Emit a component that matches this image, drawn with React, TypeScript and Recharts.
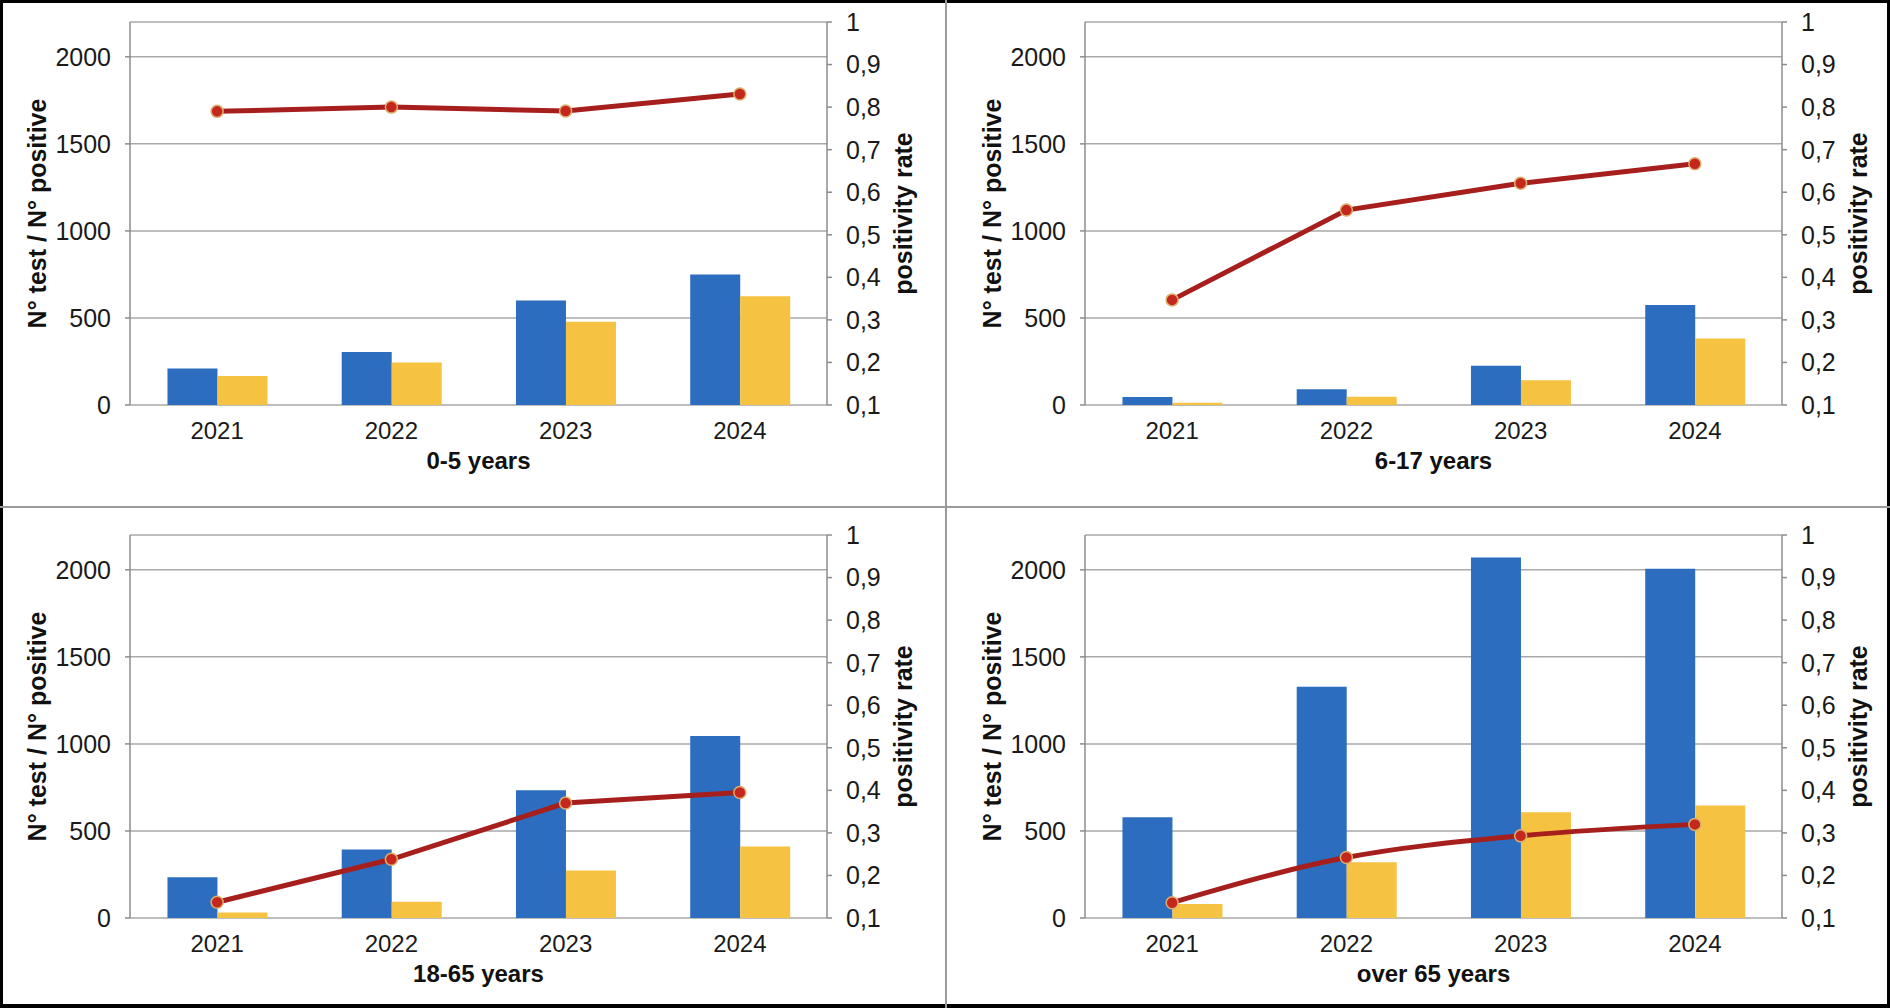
import React from "react";
import { ComposedChart, Bar, Line, XAxis, YAxis, CartesianGrid } from "recharts";

const years = ["2021", "2022", "2023", "2024"];

const tests05 = [210, 305, 600, 750];
const positives05 = [167, 244, 478, 624];
const rate05 = [0.79, 0.8, 0.791, 0.831];

const tests617 = [46, 90, 225, 574];
const positives617 = [13, 48, 142, 382];
const rate617 = [0.347, 0.558, 0.621, 0.667];

const tests1865 = [234, 394, 734, 1045];
const positives1865 = [31, 94, 273, 411];
const rate1865 = [0.137, 0.238, 0.37, 0.395];

const testsOver65 = [579, 1329, 2071, 2006];
const positivesOver65 = [81, 320, 608, 646];
const rateOver65 = [0.136, 0.242, 0.293, 0.32];

const leftTicks = [0, 500, 1000, 1500, 2000];
const rightTicks = [0.1, 0.2, 0.3, 0.4, 0.5, 0.6, 0.7, 0.8, 0.9, 1];
const frameTicks = [0, 1, 2, 3, 4];

const BLUE = "#2c6dbf";
const YELLOW = "#f5c242";
const RED = "#a61f1c";
const AXIS = "#8c8c8c";
const GRID = "#a9a9a9";
const FONT = "'Liberation Sans', Arial, sans-serif";

const fmtRate = (v: number) => (v === 1 ? "1" : v.toFixed(1).replace(".", ","));

const leftTitle = (props: any) => {
  const vb = props.viewBox;
  const cx = vb.x + 37;
  const cy = vb.y + vb.height / 2;
  return (
    <text x={cx} y={cy} transform={`rotate(-90 ${cx} ${cy})`} textAnchor="middle"
      dominantBaseline="central" fontSize={25} fontWeight="bold" fontFamily={FONT} fill="#111">
      N° test / N° positive
    </text>
  );
};

const rightTitle = (props: any) => {
  const vb = props.viewBox;
  const cx = vb.x + 76;
  const cy = vb.y + vb.height / 2;
  return (
    <text x={cx} y={cy} transform={`rotate(-90 ${cx} ${cy})`} textAnchor="middle"
      dominantBaseline="central" fontSize={25} fontWeight="bold" fontFamily={FONT} fill="#111">
      positivity rate
    </text>
  );
};

interface PanelProps {
  title: string;
  tests: number[];
  positives: number[];
  rate: number[];
  curve: "linear" | "monotone";
  left: number;
  top: number;
}

function Panel({ title, tests, positives, rate, curve, left, top }: PanelProps) {
  const data = years.map((year, i) => ({ year, tests: tests[i], positives: positives[i], rate: rate[i] }));
  return (
    <div style={{ position: "absolute", left, top }}>
      <ComposedChart width={935} height={500} data={data}
        margin={{ top: 22, right: 0, bottom: 0, left: 0 }}
        barCategoryGap="21.5%" barGap={0}>
        <CartesianGrid vertical={false} xAxisId="cat" yAxisId="left" stroke={GRID} strokeWidth={1.5} />
        <XAxis xAxisId="frame" type="number" domain={[0, 4]} ticks={frameTicks} interval={0}
          height={0} tick={false} tickSize={7} axisLine={{ stroke: AXIS, strokeWidth: 1.5 }}
          tickLine={{ stroke: AXIS, strokeWidth: 1.5 }} />
        <XAxis xAxisId="cat" dataKey="year" height={95} axisLine={false} tickLine={false}
          tickSize={0} tickMargin={17} interval={0}
          tick={{ fill: "#1a1a1a", fontSize: 24, fontFamily: FONT }}
          label={{ value: title, position: "insideBottom", offset: 31, fontSize: 24, fontWeight: "bold", fontFamily: FONT, fill: "#111" }} />
        <YAxis yAxisId="left" width={130} domain={[0, 2200]} ticks={leftTicks} interval={0}
          axisLine={{ stroke: AXIS, strokeWidth: 1.5 }} tickLine={{ stroke: AXIS, strokeWidth: 1.5 }}
          tickSize={5} tickMargin={14}
          tick={{ fill: "#1a1a1a", fontSize: 25, fontFamily: FONT }} label={leftTitle} />
        <YAxis yAxisId="right" orientation="right" width={108} domain={[0.1, 1]} ticks={rightTicks}
          interval={0} tickFormatter={fmtRate}
          axisLine={{ stroke: AXIS, strokeWidth: 1.5 }} tickLine={{ stroke: AXIS, strokeWidth: 1.5 }}
          tickSize={5} tickMargin={14}
          tick={{ fill: "#1a1a1a", fontSize: 25, fontFamily: FONT }} label={rightTitle} />
        <Bar xAxisId="cat" yAxisId="left" dataKey="tests" fill={BLUE} isAnimationActive={false} />
        <Bar xAxisId="cat" yAxisId="left" dataKey="positives" fill={YELLOW} isAnimationActive={false} />
        <Line xAxisId="cat" yAxisId="right" type={curve} dataKey="rate" stroke={RED} strokeWidth={5}
          dot={{ r: 6, fill: "#c4281d", stroke: "#dcae6e", strokeWidth: 1.5 }}
          activeDot={false} isAnimationActive={false} />
      </ComposedChart>
    </div>
  );
}

export default function App() {
  return (
    <div style={{ position: "absolute", left: 0, top: 0, width: 1890, height: 1008, background: "#000", overflow: "hidden" }}>
      <div style={{ position: "absolute", left: 3, top: 3, width: 1884, height: 1001, background: "#fff" }} />
      <div style={{ position: "absolute", left: 945, top: 0, width: 2, height: 1008, background: "#9a9a9a" }} />
      <div style={{ position: "absolute", left: 0, top: 506, width: 1890, height: 2, background: "#9a9a9a" }} />
      <Panel title="0-5 years" tests={tests05} positives={positives05} rate={rate05} curve="linear" left={0} top={0} />
      <Panel title="6-17 years" tests={tests617} positives={positives617} rate={rate617} curve="linear" left={955} top={0} />
      <Panel title="18-65 years" tests={tests1865} positives={positives1865} rate={rate1865} curve="linear" left={0} top={513} />
      <Panel title="over 65 years" tests={testsOver65} positives={positivesOver65} rate={rateOver65} curve="monotone" left={955} top={513} />
    </div>
  );
}
